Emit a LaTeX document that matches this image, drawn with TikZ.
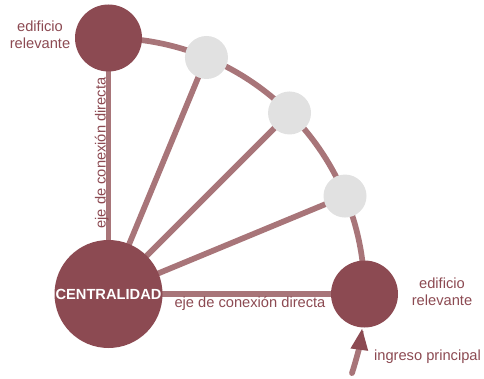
\documentclass[tikz,border=0pt]{standalone}
\usepackage{fontspec}
\setmainfont{Liberation Sans}
\usetikzlibrary{calc,backgrounds,arrows.meta}
\definecolor{maroon}{HTML}{8C4A52}
\definecolor{linec}{HTML}{A87579}
\definecolor{greyc}{HTML}{E1E1E1}
\tikzset{
  bigc/.style={circle,fill=maroon,minimum size=81pt,inner sep=0pt,text=white,font=\fontsize{11}{13}\selectfont\bfseries},
  edif/.style={circle,fill=maroon,minimum size=50.25pt,inner sep=0pt},
  greyn/.style={circle,fill=greyc,minimum size=32.25pt,inner sep=0pt},
  conn/.style={draw=linec,line width=4.3pt},
  lbl/.style={text=maroon,font=\fontsize{11}{12.75}\selectfont,align=center,inner sep=0pt},
}
\begin{document}
\begin{tikzpicture}[x=0.75pt,y=0.75pt]
\useasboundingbox (0,0) rectangle (484,378);
\coordinate (O) at (108.5,84);
\node[bigc] (C) at (O) {CENTRALIDAD};
\node[edif] (E1) at ($(O)+(90:256)$) {};
\node[edif] (E2) at ($(O)+(0:256)$) {};
\node[greyn] (G1) at ($(O)+(67.5:256)$) {};
\node[greyn] (G2) at ($(O)+(45:256)$) {};
\node[greyn] (G3) at ($(O)+(22.5:256)$) {};
\coordinate (ent) at ($(O)+(-18:256)$);
\node[lbl] (L1) at (40,343) {edificio\\relevante};
\node[lbl] (L2) at (442,86) {edificio\\relevante};
\node[lbl] (L3) at (427.5,21) {ingreso principal};
\node[lbl,rotate=90,anchor=base] (V) at (105.5,225) {eje de conexión directa};
\node[lbl,anchor=base] (H) at (250,70.5) {eje de conexión directa};
\begin{scope}[on background layer]
  \draw[conn] (E1.center) arc[start angle=90,end angle=0,radius=192pt];
  \draw[conn] (C.center) -- (E1.center);
  \draw[conn] (C.center) -- (E2.center);
  \draw[conn] (C.center) -- (G1.center);
  \draw[conn] (C.center) -- (G2.center);
  \draw[conn] (C.center) -- (G3.center);
\end{scope}
\draw[conn,line cap=round,-{Triangle[length=16.5pt,width=12pt,color=maroon]}] (ent) arc[start angle=-18,end angle=-7.6,radius=192pt];
\end{tikzpicture}
\end{document}
